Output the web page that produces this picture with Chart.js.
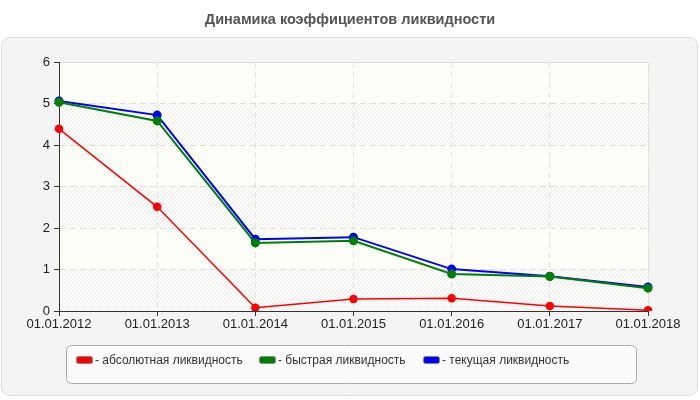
<!DOCTYPE html>
<html><head><meta charset="utf-8">
<script src="https://cdn.jsdelivr.net/npm/chart.js@4"></script>
<style>html,body{margin:0;padding:0;background:#fff}#wrap{width:700px;height:400px}</style>
</head><body><div id="wrap"><canvas id="c" width="700" height="400"></canvas></div>
<script>
const categories = ['01.01.2012','01.01.2013','01.01.2014','01.01.2015','01.01.2016','01.01.2017','01.01.2018'];
const absoluteLiquidity = [4.39, 2.51, 0.08, 0.29, 0.31, 0.12, 0.02];
const quickLiquidity = [5.03, 4.58, 1.64, 1.69, 0.89, 0.83, 0.55];
const currentLiquidity = [5.06, 4.72, 1.73, 1.78, 1.01, 0.84, 0.58];
const seriesLabels = ['- абсолютная ликвидность', '- быстрая ликвидность', '- текущая ликвидность'];
const seriesColors = ['#ff0000', '#008000', '#0000ff'];
const yTicks = [0,1,2,3,4,5,6];
const titleText = 'Динамика коэффициентов ликвидности';

const FONT = '"Liberation Sans", Arial, sans-serif';

function hatchPattern(ctx){
  const p = document.createElement('canvas'); p.width = 4; p.height = 4;
  const g = p.getContext('2d');
  g.fillStyle = '#fcfcfb'; g.fillRect(0,0,4,4);
  g.strokeStyle = '#ececec'; g.lineWidth = 1;
  g.beginPath(); g.moveTo(0,4); g.lineTo(4,0); g.moveTo(-1,1); g.lineTo(1,-1); g.moveTo(3,5); g.lineTo(5,3); g.stroke();
  return ctx.createPattern(p,'repeat');
}

const bgPlugin = {
  id: 'bg',
  beforeDraw(chart){
    const ctx = chart.ctx; const a = chart.chartArea;
    ctx.save();
    ctx.fillStyle = '#f4f4f4'; ctx.strokeStyle = '#dcdcdc'; ctx.lineWidth = 1;
    ctx.beginPath(); ctx.roundRect(1.5, 37.5, 696, 358, 8); ctx.fill(); ctx.stroke();
    ctx.fillStyle = '#fdfdf7'; ctx.fillRect(a.left, a.top, a.right-a.left, a.bottom-a.top);
    const y = chart.scales.y; const pat = hatchPattern(ctx);
    for (let v = 0; v < 6; v += 2){
      const y1 = y.getPixelForValue(v+1), y0 = y.getPixelForValue(v);
      ctx.fillStyle = pat; ctx.fillRect(a.left, y1, a.right-a.left, y0-y1);
    }
    ctx.strokeStyle = '#dddddd'; ctx.beginPath();
    ctx.moveTo(a.left, a.top+0.5); ctx.lineTo(a.right+0.5, a.top+0.5); ctx.lineTo(a.right+0.5, a.bottom); ctx.stroke();
    ctx.restore();
  },
  afterDraw(chart){
    const ctx = chart.ctx;
    ctx.save();
    ctx.fillStyle = '#555555'; ctx.font = 'bold 14.5px ' + FONT; ctx.textAlign = 'center'; ctx.textBaseline = 'middle';
    ctx.fillText(titleText, 350, 20);
    ctx.fillStyle = '#fafafa'; ctx.strokeStyle = '#aaaaaa'; ctx.lineWidth = 1;
    ctx.beginPath(); ctx.roundRect(66.5, 345.5, 570, 38, 5); ctx.fill(); ctx.stroke();
    const xs = [76, 259, 423];
    ctx.font = '12px ' + FONT; ctx.textAlign = 'left'; ctx.textBaseline = 'middle';
    chart.data.datasets.forEach((ds, i) => {
      ctx.fillStyle = ds.borderColor; ctx.strokeStyle = '#888';
      ctx.beginPath(); ctx.roundRect(xs[i]+0.5, 356.5, 16, 7, 2); ctx.fill(); ctx.stroke();
      ctx.fillStyle = '#333333';
      ctx.fillText(ds.label, xs[i]+19, 360.5);
    });
    ctx.restore();
  }
};

new Chart(document.getElementById('c'), {
  type: 'line',
  data: {
    labels: categories,
    datasets: [absoluteLiquidity, quickLiquidity, currentLiquidity].map((d, i) => ({
      label: seriesLabels[i], data: d, borderColor: seriesColors[i], backgroundColor: seriesColors[i],
      borderWidth: i === 0 ? 1.5 : 2, pointRadius: 3.5, pointHoverRadius: 3.5, tension: 0, fill: false
    }))
  },
  options: {
    responsive: false, animation: false, devicePixelRatio: 1,
    layout: { padding: { top: 62, right: 52, left: 0, bottom: 0 } },
    plugins: { legend: { display: false }, title: { display: false }, tooltip: { enabled: false } },
    scales: {
      x: {
        offset: false,
        grid: { color: '#e2e2e2', tickColor: '#333333', tickLength: 5, tickBorderDash: [] },
        border: { color: '#333333', width: 1, dash: [6,4] },
        ticks: { color: '#222222', font: { family: FONT, size: 13 }, padding: 1, maxRotation: 0, autoSkip: false },
        afterFit(s){ s.height = 89; }
      },
      y: {
        min: 0, max: 6,
        afterBuildTicks(s){ s.ticks = yTicks.map(v => ({ value: v })); },
        grid: { color: '#dddddd', tickColor: '#333333', tickLength: 5, tickBorderDash: [] },
        border: { color: '#333333', width: 1, dash: [6,4] },
        ticks: { color: '#222222', font: { family: FONT, size: 13 }, padding: 4 },
        afterFit(s){ s.width = 59; }
      }
    }
  },
  plugins: [bgPlugin]
});
</script>
</body></html>
